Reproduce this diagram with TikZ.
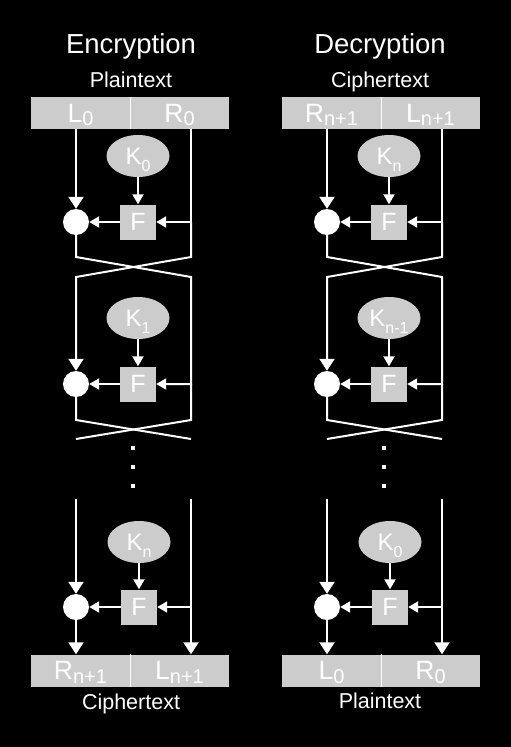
\documentclass[tikz,border=0pt]{standalone}
\usepackage{fontspec}
\setmainfont{Liberation Sans}
\usepackage{xcolor}
\usepackage{tikz}
\usetikzlibrary{shapes.geometric,arrows.meta}
\definecolor{boxgray}{RGB}{204,204,204}
\newcommand{\blocksub}[1]{\raisebox{-3.5pt}{\fontsize{20}{20}\selectfont #1}}
\newcommand{\keysub}[1]{\raisebox{-7pt}{\fontsize{16}{16}\selectfont #1}}
\tikzset{
  wire/.style={draw=white, line width=2pt},
  bigarrow/.style={-{Triangle[length=12pt,width=15pt]}},
  smallarrow/.style={-{Triangle[length=10pt,width=11pt]}},
  half/.style={fill=boxgray, minimum width=99pt, minimum height=32pt, inner sep=0pt,
    text=white, text depth=0pt, font=\fontsize{26.5}{28}\selectfont},
  keynode/.style={ellipse, fill=boxgray, minimum width=63pt, minimum height=42pt, inner sep=0pt,
    text=white, text depth=0pt, font=\fontsize{24}{26}\selectfont},
  fnode/.style={fill=boxgray, minimum width=36pt, minimum height=35pt, inner sep=0pt,
    text=white, font=\fontsize{25}{27}\selectfont},
  xor/.style={circle, fill=white, minimum size=26pt, inner sep=0pt},
  dotsq/.style={fill=white, minimum size=4pt, inner sep=0pt},
  titletext/.style={anchor=base, text=white, font=\fontsize{27.5}{30}\selectfont},
  blocktext/.style={anchor=base, text=white, font=\fontsize{21.5}{24}\selectfont},
}
\begin{document}
\begin{tikzpicture}[x=1pt,y=-1pt]
          \fill[black] (0,0) rectangle (511,747);
          % encryption
          \begin{scope}[name prefix=enc-]
            \node[titletext] (title) at (131,53) {Encryption};
            \node[blocktext] (intext) at (131,87) {Plaintext};
            \node[half] (inl) at (80.5,113) {L\blocksub{0}};
            \node[half] (inr) at (179.5,113) {R\blocksub{0}};
            \draw[white, line width=1pt] (inl.north east) -- (inl.south east);
            \node[keynode] (k1) at (138,156) {K\keysub{0}};
            \node[fnode] (f1) at (138,222) {F};
            \node[xor] (x1) at (76,222) {};
            \coordinate (r1) at (191,222);
            \coordinate (a1) at (76,257);
            \coordinate (b1) at (191,257);
            \coordinate (a2) at (76,277);
            \coordinate (b2) at (191,277);
            \node[keynode] (k2) at (138,318) {K\keysub{1}};
            \node[fnode] (f2) at (138,384) {F};
            \node[xor] (x2) at (76,384) {};
            \coordinate (r2) at (191,384);
            \coordinate (a3) at (76,420);
            \coordinate (b3) at (191,420);
            \coordinate (a4) at (76,439);
            \coordinate (b4) at (191,439);
            \node[dotsq] (d1) at (133,448) {};
            \node[dotsq] (d2) at (133,467) {};
            \node[dotsq] (d3) at (133,486) {};
            \coordinate (a5) at (76,499);
            \coordinate (b5) at (191,499);
            \node[keynode] (k3) at (139,542) {K\keysub{n}};
            \node[fnode] (f3) at (139,607) {F};
            \node[xor] (x3) at (76,607) {};
            \coordinate (r3) at (191,607);
            \node[half] (outl) at (80.5,670.5) {R\blocksub{n+1}};
            \node[half] (outr) at (179.5,670.5) {L\blocksub{n+1}};
            \draw[white, line width=1pt] (outl.north east) -- (outl.south east);
            \node[blocktext] (outtext) at (131,709) {Ciphertext};
            \draw[wire,bigarrow] (inl.south -| x1) -- (x1);
            \draw[wire,smallarrow] (inr.south -| r1) -- (r1) -- (f1);
            \draw[wire,smallarrow] (k1) -- (f1);
            \draw[wire,smallarrow] (f1) -- (x1);
            \draw[wire,smallarrow] (x1) -- (a1) -- (b2) -- (r2) -- (f2);
            \draw[wire,bigarrow] (r1) -- (b1) -- (a2) -- (x2);
            \draw[wire,smallarrow] (k2) -- (f2);
            \draw[wire,smallarrow] (f2) -- (x2);
            \draw[wire] (x2) -- (a3) -- (b4);
            \draw[wire] (r2) -- (b3) -- (a4);
            \draw[wire,bigarrow] (a5) -- (x3);
            \draw[wire,bigarrow] (b5) -- (b5 |- outr.north);
            \draw[wire,smallarrow] (r3) -- (f3);
            \draw[wire,smallarrow] (k3) -- (f3);
            \draw[wire,smallarrow] (f3) -- (x3);
            \draw[wire,bigarrow] (x3) -- (x3 |- outl.north);
          \end{scope}
          % decryption
          \begin{scope}[xshift=251pt, name prefix=dec-]
            \node[titletext] (title) at (129,53) {Decryption};
            \node[blocktext] (intext) at (129,87) {Ciphertext};
            \node[half] (inl) at (80.5,113) {R\blocksub{n+1}};
            \node[half] (inr) at (179.5,113) {L\blocksub{n+1}};
            \draw[white, line width=1pt] (inl.north east) -- (inl.south east);
            \node[keynode] (k1) at (138,156) {K\keysub{n}};
            \node[fnode] (f1) at (138,222) {F};
            \node[xor] (x1) at (76,222) {};
            \coordinate (r1) at (191,222);
            \coordinate (a1) at (76,257);
            \coordinate (b1) at (191,257);
            \coordinate (a2) at (76,277);
            \coordinate (b2) at (191,277);
            \node[keynode] (k2) at (138,318) {K\keysub{n-1}};
            \node[fnode] (f2) at (138,384) {F};
            \node[xor] (x2) at (76,384) {};
            \coordinate (r2) at (191,384);
            \coordinate (a3) at (76,420);
            \coordinate (b3) at (191,420);
            \coordinate (a4) at (76,439);
            \coordinate (b4) at (191,439);
            \node[dotsq] (d1) at (133,448) {};
            \node[dotsq] (d2) at (133,467) {};
            \node[dotsq] (d3) at (133,486) {};
            \coordinate (a5) at (76,499);
            \coordinate (b5) at (191,499);
            \node[keynode] (k3) at (139,542) {K\keysub{0}};
            \node[fnode] (f3) at (139,607) {F};
            \node[xor] (x3) at (76,607) {};
            \coordinate (r3) at (191,607);
            \node[half] (outl) at (80.5,670.5) {L\blocksub{0}};
            \node[half] (outr) at (179.5,670.5) {R\blocksub{0}};
            \draw[white, line width=1pt] (outl.north east) -- (outl.south east);
            \node[blocktext] (outtext) at (129,708) {Plaintext};
            \draw[wire,bigarrow] (inl.south -| x1) -- (x1);
            \draw[wire,smallarrow] (inr.south -| r1) -- (r1) -- (f1);
            \draw[wire,smallarrow] (k1) -- (f1);
            \draw[wire,smallarrow] (f1) -- (x1);
            \draw[wire,smallarrow] (x1) -- (a1) -- (b2) -- (r2) -- (f2);
            \draw[wire,bigarrow] (r1) -- (b1) -- (a2) -- (x2);
            \draw[wire,smallarrow] (k2) -- (f2);
            \draw[wire,smallarrow] (f2) -- (x2);
            \draw[wire] (x2) -- (a3) -- (b4);
            \draw[wire] (r2) -- (b3) -- (a4);
            \draw[wire,bigarrow] (a5) -- (x3);
            \draw[wire,bigarrow] (b5) -- (b5 |- outr.north);
            \draw[wire,smallarrow] (r3) -- (f3);
            \draw[wire,smallarrow] (k3) -- (f3);
            \draw[wire,smallarrow] (f3) -- (x3);
            \draw[wire,bigarrow] (x3) -- (x3 |- outl.north);
          \end{scope}
        \end{tikzpicture}
\end{document}
